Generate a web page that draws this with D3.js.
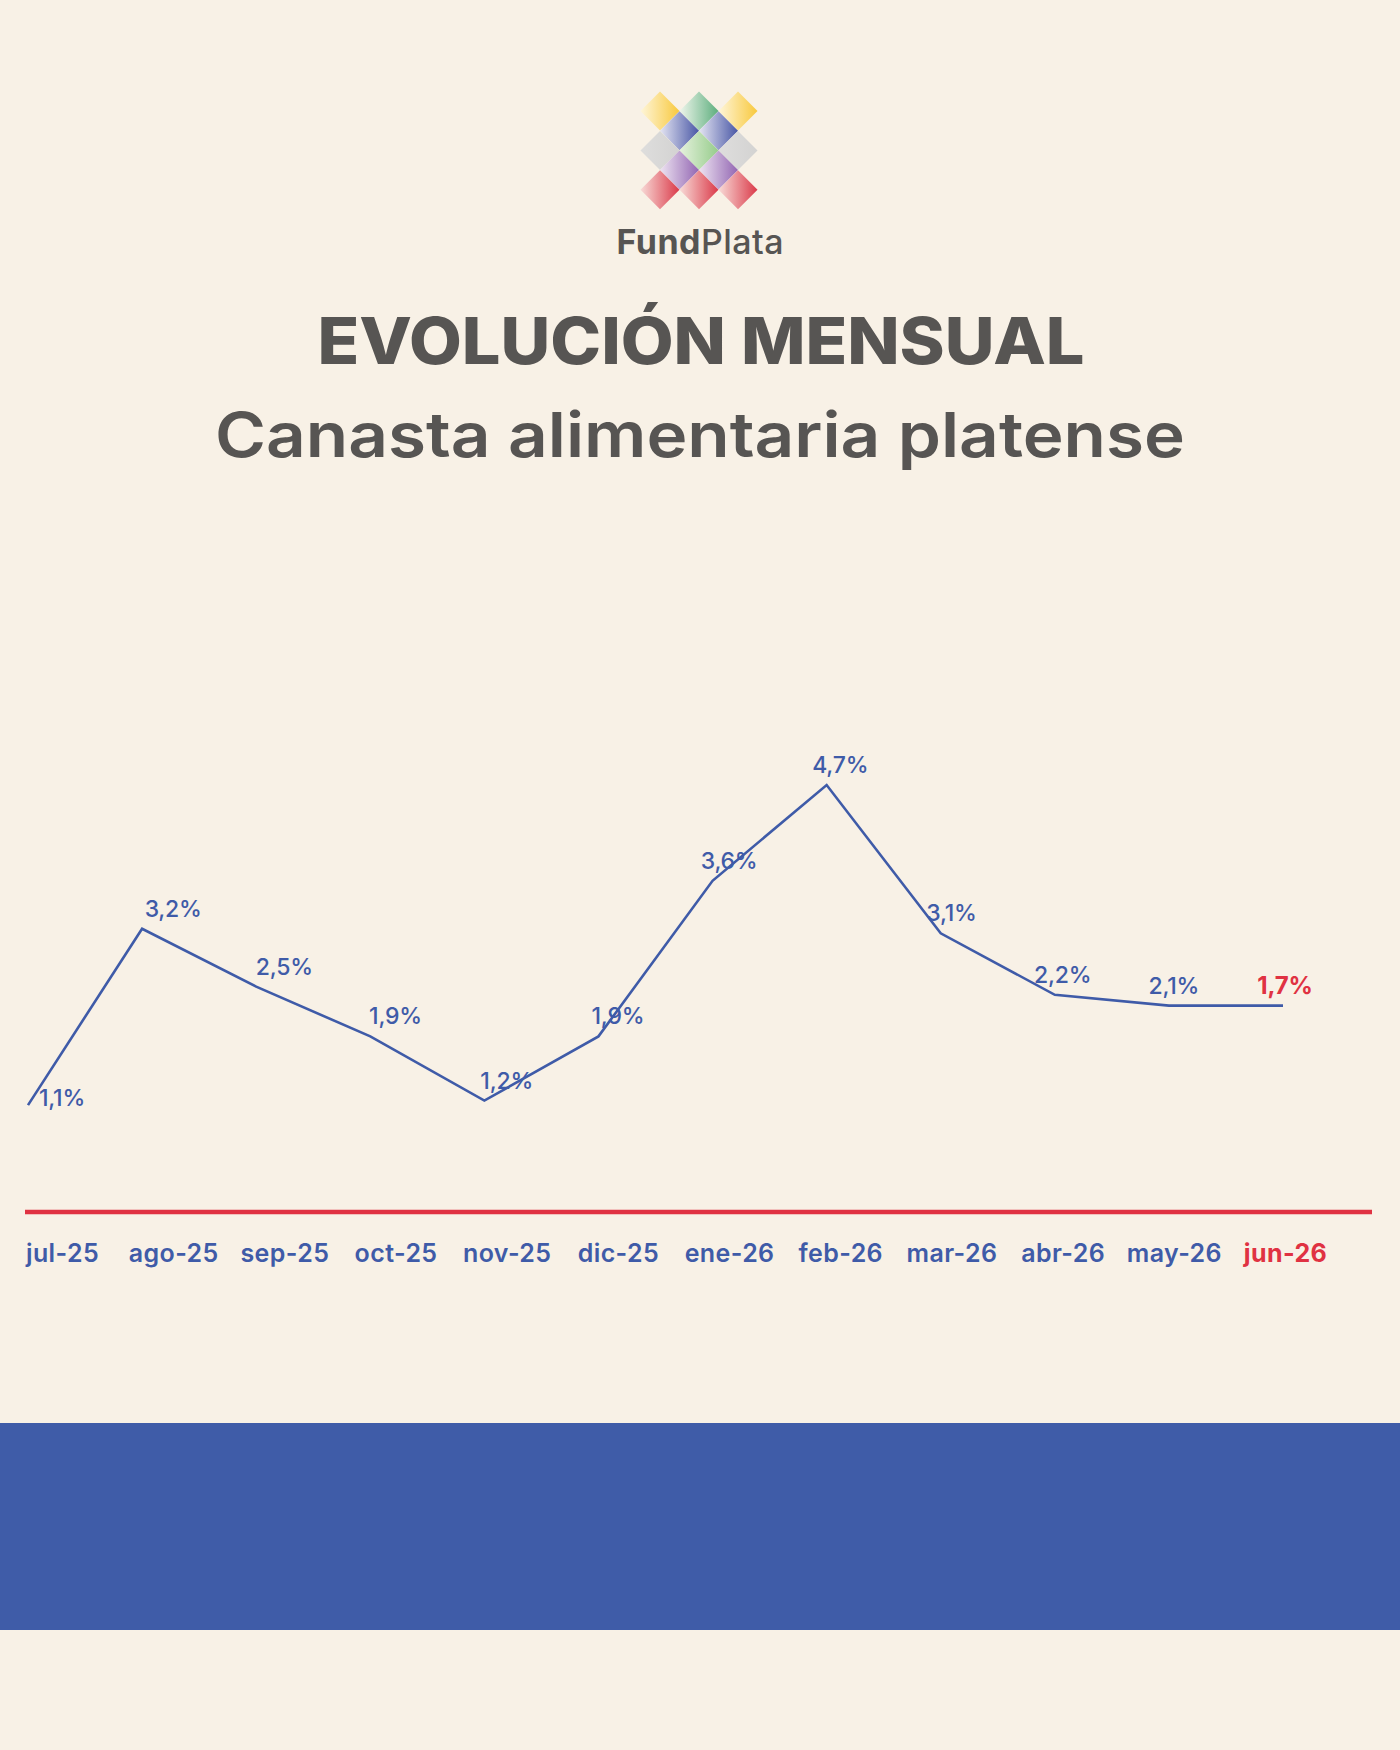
<!DOCTYPE html>
<html lang="es">
<head>
<meta charset="utf-8">
<title>Evolución mensual — Canasta alimentaria platense</title>
<script src="https://cdn.jsdelivr.net/npm/d3@7"></script>
<style>
  html, body { margin: 0; padding: 0; background: #f8f1e6; }
  #chart { width: 1400px; height: 1750px; }
  svg { display: block; font-family: Inter, "Open Sans", sans-serif; }
</style>
</head>
<body>
<div id="chart"></div>
<script>
// monthly % change of the La Plata food basket
const months = ["jul-25", "ago-25", "sep-25", "oct-25", "nov-25", "dic-25",
                "ene-26", "feb-26", "mar-26", "abr-26", "may-26", "jun-26"];
const values = [1.1, 3.2, 2.5, 1.9, 1.2, 1.9, 3.6, 4.7, 3.1, 2.2, 2.1, 1.7];
// height at which the source graphic actually draws each vertex
// (it drifts from the labels at the end: jun is drawn flat at may's level)
const lineLevels = [1.16, 3.11, 2.47, 1.92, 1.21, 1.92, 3.64, 4.70, 3.06, 2.38, 2.26, 2.26];
const yDomain = [0, 4.7];

// logo tiles: row, column, colour
const logoRows  = [0, 0, 0, 1, 1, 2, 2, 2, 3, 3, 4, 4, 4];
const logoCols  = [0, 1, 2, 0.5, 1.5, 0, 1, 2, 0.5, 1.5, 0, 1, 2];
const logoTints = ["yellow", "green", "yellow", "blue", "blue", "gray", "lgreen", "gray",
                   "purple", "purple", "red", "red", "red"];

(function () {
  const W = 1400, H = 1750;
  const BLUE = "#3f5ba8", RED = "#e03242", GREY = "#575553", BG = "#f8f1e6";

  const svg = d3.select("#chart").append("svg")
    .attr("width", W).attr("height", H)
    .attr("viewBox", [0, 0, W, H]);

  svg.append("rect").attr("width", W).attr("height", H).attr("fill", BG);

  // ---- logo
  const tint = {
    yellow: ["#fff6d8", "#f8c52e"],
    green:  ["#eef6ec", "#4fa874"],
    lgreen: ["#e4f1dc", "#8dc983"],
    blue:   ["#e2e3f3", "#3a4aa0"],
    gray:   ["#dcdcdc", "#d0d0d0"],
    purple: ["#ece2f2", "#8a5aae"],
    red:    ["#f8d9d6", "#d82a3c"]
  };
  const defs = svg.append("defs");
  Object.entries(tint).forEach(([k, c]) => {
    const g = defs.append("linearGradient").attr("id", "lg-" + k)
      .attr("x1", 0).attr("x2", 1).attr("y1", 0).attr("y2", 0);
    g.append("stop").attr("offset", "0%").attr("stop-color", c[0]);
    g.append("stop").attr("offset", "100%").attr("stop-color", c[1]);
  });

  const LX = 660, LY = 111, STEP_X = 39, STEP_Y = 19.7, HALF = 19.5;
  const tiles = logoRows.map((r, i) => ({ r, c: logoCols[i], t: logoTints[i] }));
  svg.append("g").selectAll("path").data(tiles).join("path")
    .attr("d", d => {
      const cx = LX + d.c * STEP_X, cy = LY + d.r * STEP_Y;
      return `M${cx - HALF},${cy}L${cx},${cy - HALF}L${cx + HALF},${cy}L${cx},${cy + HALF}Z`;
    })
    .attr("fill", d => `url(#lg-${d.t})`)
    .attr("opacity", 0.92);

  const brand = svg.append("text")
    .attr("x", 700).attr("y", 254).attr("text-anchor", "middle")
    .attr("font-size", 34).attr("fill", GREY)
    .attr("textLength", 167).attr("lengthAdjust", "spacing");
  brand.append("tspan").attr("font-weight", 700).text("Fund");
  brand.append("tspan").attr("font-weight", 500).text("Plata");

  // ---- titles
  svg.append("text")
    .attr("x", 701).attr("y", 364).attr("text-anchor", "middle")
    .attr("font-size", 64).attr("font-weight", 800).attr("fill", GREY)
    .attr("textLength", 767).attr("lengthAdjust", "spacingAndGlyphs")
    .text("EVOLUCIÓN MENSUAL");

  svg.append("text")
    .attr("x", 700).attr("y", 457).attr("text-anchor", "middle")
    .attr("font-size", 62).attr("font-weight", 600).attr("fill", GREY)
    .attr("textLength", 970).attr("lengthAdjust", "spacingAndGlyphs")
    .text("Canasta alimentaria platense");

  // ---- chart
  const xLine  = d3.scalePoint().domain(months).range([28, 1283]);
  const xLabel = d3.scalePoint().domain(months).range([62, 1285]);
  const y = d3.scaleLinear().domain(yDomain).range([1210, 785]);
  const last = months[months.length - 1];

  const pts = months.map((m, i) => ({ m, v: values[i], lv: lineLevels[i] }));

  svg.append("path").datum(pts)
    .attr("fill", "none").attr("stroke", BLUE).attr("stroke-width", 2.6)
    .attr("stroke-linejoin", "miter")
    .attr("d", d3.line().x(d => xLine(d.m)).y(d => y(d.lv)));

  // zero line
  svg.append("line")
    .attr("x1", 25).attr("x2", 1372)
    .attr("y1", y(0) + 2).attr("y2", y(0) + 2)
    .attr("stroke", RED).attr("stroke-width", 4.5);

  const fmt = v => d3.format(".1f")(v).replace(".", ",") + "%";

  svg.append("g").selectAll("text").data(pts).join("text")
    .attr("x", (d, i) => i === 0 ? xLabel(d.m) : xLabel(d.m))
    .attr("y", (d, i) => i === 0 ? y(d.lv) + 1 : y(d.lv) - 12)
    .attr("text-anchor", "middle")
    .attr("font-size", d => d.m === last ? 24 : 23)
    .attr("font-weight", d => d.m === last ? 700 : 500)
    .attr("letter-spacing", -0.2)
    .attr("fill", d => d.m === last ? RED : BLUE)
    .text(d => fmt(d.v));

  // month axis
  const axis = svg.append("g")
    .attr("transform", `translate(0,${1239})`)
    .call(d3.axisBottom(xLabel).tickSize(0).tickPadding(0));
  axis.select(".domain").remove();
  axis.selectAll("text")
    .attr("font-family", "Inter, 'Open Sans', sans-serif")
    .attr("font-size", 25)
    .attr("letter-spacing", 0.4)
    .attr("font-weight", d => d === last ? 700 : 600)
    .attr("fill", d => d === last ? RED : BLUE)
    .attr("dy", "0.9em");

  // ---- footer band
  svg.append("rect")
    .attr("x", 0).attr("y", 1423).attr("width", W).attr("height", 207)
    .attr("fill", "#3f5ca8");
})();
</script>
</body>
</html>
